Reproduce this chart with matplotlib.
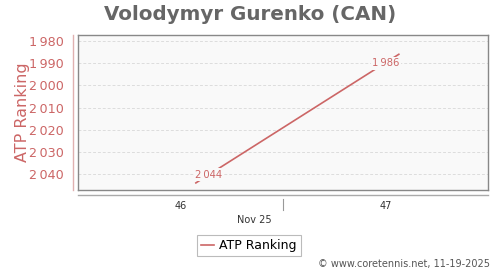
import matplotlib
matplotlib.use("Agg")
import matplotlib.pyplot as plt
from matplotlib.lines import Line2D

# data
weeks = [46.075, 47.065]
ranking = [2044, 1986]
point_labels = ["2\u2009044", "1\u2009986"]
ytick_vals = [1980, 1990, 2000, 2010, 2020, 2030, 2040]
ytick_labels = ["1\u2009980", "1\u2009990", "2\u2009000", "2\u2009010", "2\u2009020", "2\u2009030", "2\u2009040"]
xtick_vals = [46, 47]
xtick_labels = ["46", "47"]
month_label = "Nov 25"
title = "Volodymyr Gurenko (CAN)"
ylabel = "ATP Ranking"
series_name = "ATP Ranking"
footer = "\u00a9 www.coretennis.net, 11-19-2025"

RED = "#cc6666"
W, H = 500, 270
fig = plt.figure(figsize=(5, 2.7), dpi=100)
fig.patch.set_facecolor("white")

def fx(px):
    return px / W
def fy(py):
    return 1 - py / H

L, R, T, B = 78, 488, 35, 190
ax = fig.add_axes([fx(L), fy(B), fx(R - L), (B - T) / H])
ax.set_facecolor("#f9f9f9")
for s in ax.spines.values():
    s.set_color("#888888")
    s.set_linewidth(1.0)

ax.set_xlim(45.5, 47.5)
ax.set_ylim(2047.2, 1977.3)
ax.set_yticks(ytick_vals)
ax.set_yticklabels(ytick_labels)
ax.set_xticks(xtick_vals)
ax.set_xticklabels(xtick_labels)
ax.tick_params(axis="y", length=0, pad=10, labelsize=9.2, labelcolor=RED)
ax.tick_params(axis="x", length=0, pad=8, labelsize=7, labelcolor="#333333")
ax.grid(axis="y", color="#dddddd", linestyle=(0, (3, 2)), linewidth=0.7)
ax.set_axisbelow(True)

line, = ax.plot(weeks, ranking, color=RED, linewidth=1.2, label=series_name, zorder=3)

# data labels placed along the line, slightly inside the endpoints
offsets = [(13, 8), (-13, -9)]
for x, y, lab, (dx, dy) in zip(weeks, ranking, point_labels, offsets):
    ax.annotate(lab, (x, y), xytext=(dx * 0.72, dy * 0.72), textcoords="offset points",
                ha="center", va="center", fontsize=7.2, color=RED, zorder=4,
                bbox=dict(boxstyle="square,pad=0.15", fc="#f9f9f9", ec="none"))

# month label and separator tick
ax.text(46.36, -0.195, month_label, transform=ax.get_xaxis_transform(),
        ha="center", va="center", fontsize=7, color="#333333")
sep_x = fx(L) + (46.5 - 45.5) / 2.0 * fx(R - L)
fig.add_artist(Line2D([sep_x, sep_x], [fy(199), fy(210)], color="#999999", linewidth=0.8))

# offset axis lines
fig.add_artist(Line2D([fx(73), fx(73)], [fy(T), fy(B)], color="#e0b0b0", linewidth=1.0))
fig.add_artist(Line2D([fx(L), fx(R)], [fy(195), fy(195)], color="#aaaaaa", linewidth=1.0))

ax.set_ylabel(ylabel, fontsize=11.5, color=RED)
ax.yaxis.set_label_coords(-0.117, 0.5)

fig.text(0.5, fy(14), title, ha="center", va="center", fontsize=14.3,
         fontweight="bold", color="#666666")

leg = fig.legend(handles=[line], loc="center", bbox_to_anchor=(fx(249), fy(245.5)),
                 fontsize=9, frameon=True, fancybox=False, handlelength=1.05,
                 handletextpad=0.4, borderpad=0.3, borderaxespad=0)
leg.get_frame().set_edgecolor("#aaaaaa")
leg.get_frame().set_linewidth(0.8)

fig.text(fx(490), fy(264), footer, ha="right", va="center", fontsize=7, color="#555555")

fig.savefig("out.png", dpi=100, facecolor="white")
